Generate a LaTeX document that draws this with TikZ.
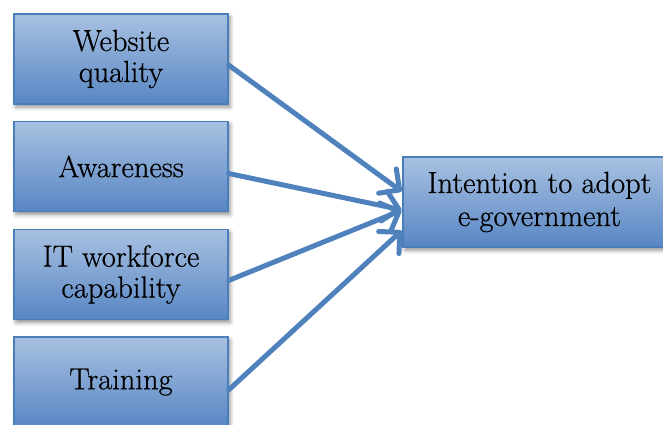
\documentclass[tikz,border=0pt]{standalone}
\usepackage{fontspec}
% box labels: Latin Modern, slightly emboldened
\newfontfamily\boxfont{Latin Modern Roman}[AutoFakeBold=0.6]
\usetikzlibrary{arrows.meta,shadows.blur}
\definecolor{boxtop}{HTML}{A8C1E1}
\definecolor{boxbot}{HTML}{5886C4}
\definecolor{boxline}{HTML}{4A7EBB}
\definecolor{arrowblue}{HTML}{4F81BD}
\begin{document}
\begin{tikzpicture}[x=1pt,y=-1pt,
  factor/.style={rectangle, draw=boxline, line width=1.2pt,
    top color=boxtop, bottom color=boxbot,
    minimum width=214pt, minimum height=90pt, inner sep=0pt,
    align=center, text=black,
    font=\fontsize{30.5}{31}\boxfont\bfseries,
    blur shadow={shadow xshift=2pt, shadow yshift=-3pt,
      shadow blur radius=4pt, shadow opacity=45}},
  link/.style={draw=arrowblue, line width=5pt, line cap=round,
    -{Straight Barb[length=15pt,width=30pt,round]}, shorten >=1pt}]
  \useasboundingbox (0,0) rectangle (663,425);
  \clip (0,0) rectangle (663,425);
  % predictor boxes
  \node[factor] (web) at (121,59) {Website\\quality};
  \node[factor] (awa) at (121,166.5) {Awareness};
  \node[factor] (itw) at (121,274.5) {IT workforce\\capability};
  \node[factor] (tra) at (121,382) {Training};
  % outcome box
  \node[factor, minimum width=273pt, font=\fontsize{30.5}{33}\boxfont\bfseries]
    (int) at (539.5,202) {Intention to adopt\\e-government};
  % influence arrows
  \draw[link] ([yshift=-6pt]web.east) -- ([yshift=10pt]int.west);
  \draw[link] ([yshift=-7pt]awa.east) -- ([yshift=-8pt]int.west);
  \draw[link] ([yshift=-6pt]itw.east) -- ([yshift=-8pt]int.west);
  \draw[link] ([yshift=-8pt]tra.east) -- ([yshift=-28pt]int.west);
\end{tikzpicture}
\end{document}
